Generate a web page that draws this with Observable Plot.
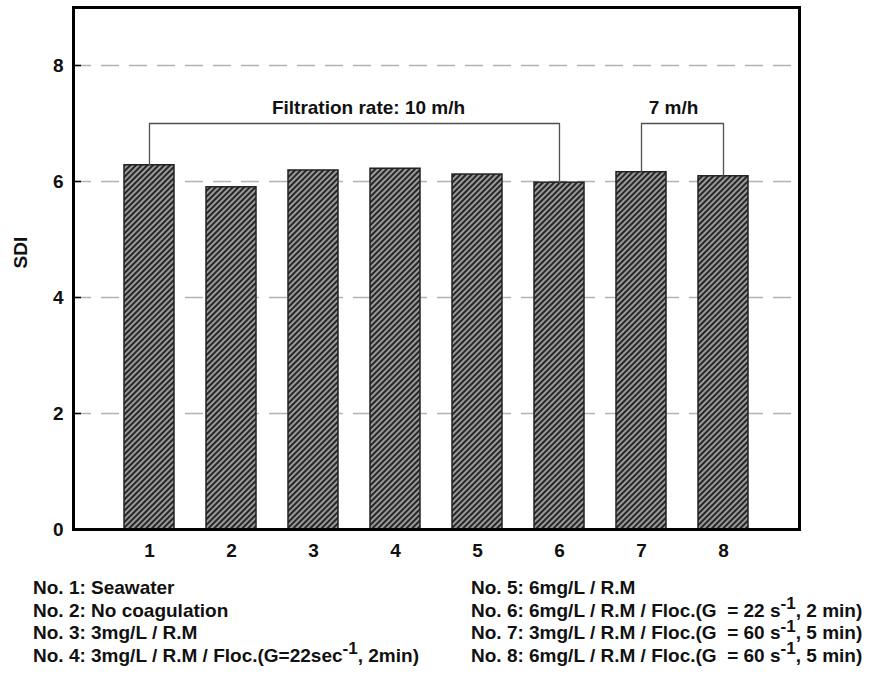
<!DOCTYPE html>
<html>
<head>
<meta charset="utf-8">
<script src="https://cdn.jsdelivr.net/npm/d3@7"></script>
<script src="https://cdn.jsdelivr.net/npm/@observablehq/plot@0.6"></script>
<style>
  body { margin: 0; background: #fff; font-family: "Liberation Sans", Arial, sans-serif; }
  #wrap { position: relative; width: 873px; height: 675px; }
  .legend { position: absolute; top: 577px; font-weight: bold; font-size: 19px; color: #111; }
  .legend div { height: 22.5px; line-height: 22.5px; white-space: pre; }
  .legend sup { font-size: 0.9em; vertical-align: 0; position: relative; top: -0.42em; }
</style>
</head>
<body>
<div id="wrap"></div>
<script>
const categories = ["1", "2", "3", "4", "5", "6", "7", "8"];
const sdi = [6.28, 5.90, 6.19, 6.22, 6.12, 5.98, 6.16, 6.09];
const yTicks = [0, 2, 4, 6, 8];
const gridValues = [2, 4, 6, 8];
const bracketLabels = ["Filtration rate: 10 m/h", "7 m/h"];
const bracketFrom = ["1", "7"];
const bracketTo = ["6", "8"];
const legendLeft = [
  "No. 1: Seawater",
  "No. 2: No coagulation",
  "No. 3: 3mg/L / R.M",
  "No. 4: 3mg/L / R.M / Floc.(G=22sec<sup>-1</sup>, 2min)"
];
const legendRight = [
  "No. 5: 6mg/L / R.M",
  "No. 6: 6mg/L / R.M / Floc.(G  = 22 s<sup>-1</sup>, 2 min)",
  "No. 7: 3mg/L / R.M / Floc.(G  = 60 s<sup>-1</sup>, 5 min)",
  "No. 8: 6mg/L / R.M / Floc.(G  = 60 s<sup>-1</sup>, 5 min)"
];

const bars = categories.map((c, i) => ({cat: c, sdi: sdi[i]}));
const valOf = c => sdi[categories.indexOf(c)];
const bracketLevel = 7.0;
const bracketPts = [];
bracketLabels.forEach((lab, i) => {
  const a = bracketFrom[i], b = bracketTo[i];
  bracketPts.push({g: i, x: a, y: valOf(a)});
  bracketPts.push({g: i, x: a, y: bracketLevel});
  bracketPts.push({g: i, x: b, y: bracketLevel});
  bracketPts.push({g: i, x: b, y: valOf(b)});
});

const font = "'Liberation Sans', Arial, sans-serif";

const svg = Plot.plot({
  width: 873,
  height: 562,
  marginLeft: 73,
  marginRight: 74,
  marginTop: 7,
  marginBottom: 33,
  style: {fontFamily: font, fontWeight: "bold", fontSize: "19px", color: "#111", background: "#fff"},
  x: {type: "band", domain: categories, paddingInner: 0.39, paddingOuter: 0.607, label: null},
  y: {domain: [0, 9], label: null},
  marks: [
    Plot.ruleY(gridValues, {stroke: "#b4b4b4", strokeWidth: 1.6, strokeDasharray: "18,10"}),
    Plot.barY(bars, {x: "cat", y: "sdi", fill: "url(#hatch)", stroke: "#222", strokeWidth: 1.5}),
    Plot.line(bracketPts, {x: "x", y: "y", z: "g", stroke: "#505050", strokeWidth: 1.3}),
    Plot.text([bracketLabels[0]], {x: () => "4", y: () => bracketLevel, text: d => d, dx: -27, dy: -16, fontSize: 19, fontWeight: "bold", fill: "#111"}),
    Plot.text([bracketLabels[1]], {x: () => "7", y: () => bracketLevel, text: d => d, dx: 32, dy: -16, fontSize: 19, fontWeight: "bold", fill: "#111"}),
    Plot.axisY({ticks: yTicks, tickSize: 0, tickPadding: 10, label: null, fontSize: 19}),
    Plot.ruleY(gridValues, {stroke: "#000", strokeWidth: 1.5, insetRight: 873 - 73 - 74 - 8}),
    Plot.axisX({tickSize: 0, tickPadding: 14, label: null, fontSize: 19}),
    Plot.text(["SDI"], {frameAnchor: "left", rotate: -90, dx: -53, dy: 0, fontSize: 19, fontWeight: "bold", fill: "#111"}),
    Plot.frame({stroke: "#000", strokeWidth: 3})
  ]
});

// hatch pattern for bars
const defs = d3.select(svg).insert("defs", ":first-child");
const pat = defs.append("pattern")
  .attr("id", "hatch")
  .attr("patternUnits", "userSpaceOnUse")
  .attr("width", 4).attr("height", 4)
  .attr("patternTransform", "rotate(45)");
pat.append("rect").attr("width", 4).attr("height", 4).attr("fill", "#9a9a9a");
pat.append("rect").attr("width", 2).attr("height", 4).attr("fill", "#262626");

const wrap = document.getElementById("wrap");
wrap.appendChild(svg);

const L = document.createElement("div");
L.className = "legend"; L.style.left = "33px";
L.innerHTML = legendLeft.map(s => `<div>${s}</div>`).join("");
wrap.appendChild(L);
const R = document.createElement("div");
R.className = "legend"; R.style.left = "471px";
R.innerHTML = legendRight.map(s => `<div>${s}</div>`).join("");
wrap.appendChild(R);
</script>
</body>
</html>
